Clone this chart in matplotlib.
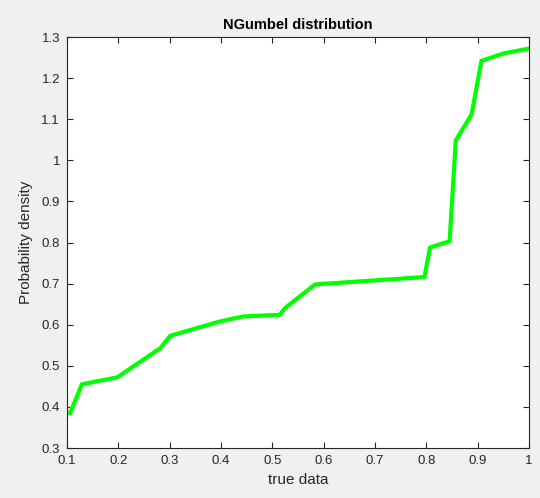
import numpy as np
import matplotlib
matplotlib.use('Agg')
import matplotlib.pyplot as plt

plt.rcParams['font.family'] = ['Liberation Sans', 'DejaVu Sans']

# values
x_data = [0.106, 0.129, 0.198, 0.282, 0.301, 0.398, 0.443, 0.514, 0.526, 0.583,
          0.796, 0.807, 0.845, 0.857, 0.888, 0.907, 0.950, 1.000]
y_data = [0.385, 0.455, 0.472, 0.543, 0.573, 0.608, 0.620, 0.624, 0.642, 0.698,
          0.716, 0.788, 0.803, 1.048, 1.112, 1.242, 1.260, 1.272]

x_ticks = [0.1, 0.2, 0.3, 0.4, 0.5, 0.6, 0.7, 0.8, 0.9, 1.0]
x_tick_labels = ['0.1', '0.2', '0.3', '0.4', '0.5', '0.6', '0.7', '0.8', '0.9', '1']
y_ticks = [0.3, 0.4, 0.5, 0.6, 0.7, 0.8, 0.9, 1.0, 1.1, 1.2, 1.3]
y_tick_labels = ['0.3', '0.4', '0.5', '0.6', '0.7', '0.8', '0.9', '1', '1.1', '1.2', '1.3']

fig = plt.figure(figsize=(5.4, 4.98), dpi=100, facecolor='#f0f0f0')
ax = fig.add_axes([0.124, 0.1004, 0.856, 0.8253])
ax.set_facecolor('white')

ax.plot(x_data, y_data, color='#00ff00', linewidth=3)

ax.set_xlim(0.1, 1.0)
ax.set_ylim(0.3, 1.3)
ax.set_xticks(x_ticks)
ax.set_xticklabels(x_tick_labels)
ax.set_yticks(y_ticks)
ax.set_yticklabels(y_tick_labels)

ax.tick_params(direction='in', top=True, right=True, length=4, width=0.8,
               colors='#262626', labelsize=9.5, pad=5)
for spine in ax.spines.values():
    spine.set_color('#262626')
    spine.set_linewidth(0.8)

ax.set_title('NGumbel distribution', fontsize=10.5, fontweight='bold', color='black', pad=6)
ax.set_xlabel('true data', fontsize=11, color='#262626', labelpad=4)
ax.set_ylabel('Probability density', fontsize=11, color='#262626', labelpad=6)

plt.savefig('out.png', dpi=100, facecolor=fig.get_facecolor())
plt.close(fig)
